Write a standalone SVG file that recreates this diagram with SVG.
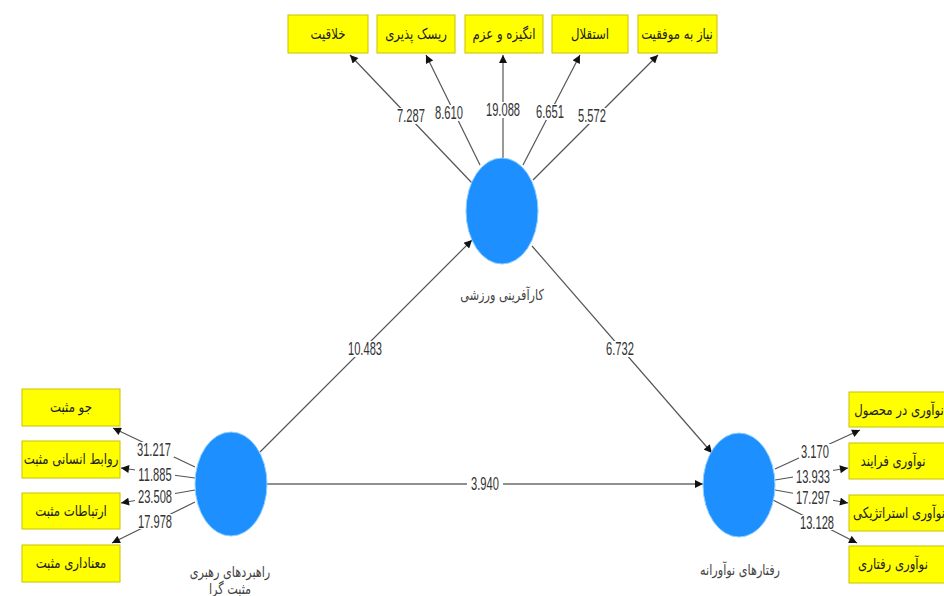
<svg xmlns="http://www.w3.org/2000/svg" width="944" height="596" viewBox="0 0 944 596">
<style>
.box{fill:#ffff00;stroke:#c9c200;stroke-width:1}
.lv{fill:#1e8fff;stroke:#8fd0ff;stroke-width:1}
.bt{font-family:"DejaVu Sans",sans-serif;font-size:15px;fill:#222;text-anchor:middle}
.lt{font-family:"DejaVu Sans",sans-serif;font-size:15px;fill:#444;text-anchor:middle}
.num{font-family:"Liberation Sans",Arial,sans-serif;font-size:18px;fill:#333;text-anchor:middle}
.bg{fill:#fff}
.ln{stroke:#555;stroke-width:1.2;fill:none;marker-end:url(#ah)}
.ln2{stroke:#222;stroke-width:1.2;fill:none;marker-end:url(#ah)}
</style>
<defs>
<marker id="ah" viewBox="0 0 10 10" refX="10" refY="5" markerWidth="9" markerHeight="8" markerUnits="userSpaceOnUse" orient="auto">
<path d="M0,0 L10,5 L0,10 z" fill="#111"/>
</marker>
</defs>
<rect width="944" height="596" fill="#fff"/>
<g id="connectors">
<line class="ln" x1="472" y1="183" x2="350" y2="55"/>
<line class="ln" x1="480" y1="165" x2="426" y2="55"/>
<line class="ln" x1="503" y1="158" x2="503" y2="55"/>
<line class="ln" x1="523" y1="165" x2="580" y2="55"/>
<line class="ln" x1="533" y1="180" x2="658" y2="55"/>
<line class="ln" x1="260" y1="452" x2="472" y2="240"/>
<line class="ln" x1="532" y1="246" x2="712" y2="453"/>
<line class="ln2" x1="267" y1="484" x2="703" y2="484"/>
<line class="ln" x1="195" y1="467" x2="113" y2="428"/>
<line class="ln" x1="195" y1="478" x2="121" y2="468"/>
<line class="ln" x1="195" y1="490" x2="121" y2="503"/>
<line class="ln" x1="195" y1="502" x2="112" y2="543"/>
<line class="ln" x1="775" y1="469" x2="860" y2="430"/>
<line class="ln" x1="775" y1="480" x2="848" y2="468"/>
<line class="ln" x1="775" y1="490" x2="848" y2="503"/>
<line class="ln" x1="773" y1="500" x2="857" y2="543"/>
<rect class="bg" x="395" y="108" width="32" height="16"/>
<rect class="bg" x="433" y="105" width="32" height="16"/>
<rect class="bg" x="483" y="102" width="40" height="16"/>
<rect class="bg" x="534" y="104" width="32" height="16"/>
<rect class="bg" x="576" y="108" width="32" height="16"/>
<rect class="bg" x="345" y="341" width="40" height="16"/>
<rect class="bg" x="604" y="341" width="32" height="16"/>
<rect class="bg" x="467" y="476" width="36" height="16"/>
<rect class="bg" x="134" y="442" width="40" height="15"/>
<rect class="bg" x="135" y="468" width="40" height="14"/>
<rect class="bg" x="135" y="490" width="40" height="14"/>
<rect class="bg" x="135" y="514" width="40" height="15"/>
<rect class="bg" x="799" y="444" width="32" height="15"/>
<rect class="bg" x="793" y="470" width="40" height="14"/>
<rect class="bg" x="793" y="491" width="40" height="14"/>
<rect class="bg" x="797" y="515" width="40" height="15"/>
<text class="num" transform="translate(411,122) scale(0.62,1)">7.287</text>
<text class="num" transform="translate(449,119) scale(0.62,1)">8.610</text>
<text class="num" transform="translate(503,116) scale(0.62,1)">19.088</text>
<text class="num" transform="translate(550,118) scale(0.62,1)">6.651</text>
<text class="num" transform="translate(592,122) scale(0.62,1)">5.572</text>
<text class="num" transform="translate(365,355) scale(0.62,1)">10.483</text>
<text class="num" transform="translate(620,355) scale(0.62,1)">6.732</text>
<text class="num" transform="translate(485,490) scale(0.62,1)">3.940</text>
<text class="num" transform="translate(154,456) scale(0.62,1)">31.217</text>
<text class="num" transform="translate(155,481) scale(0.62,1)">11.885</text>
<text class="num" transform="translate(155,503) scale(0.62,1)">23.508</text>
<text class="num" transform="translate(155,528) scale(0.62,1)">17.978</text>
<text class="num" transform="translate(815,458) scale(0.62,1)">3.170</text>
<text class="num" transform="translate(813,483) scale(0.62,1)">13.933</text>
<text class="num" transform="translate(813,504) scale(0.62,1)">17.297</text>
<text class="num" transform="translate(817,529) scale(0.62,1)">13.128</text>
</g>
<g id="node-kar">
<ellipse class="lv" cx="502" cy="211" rx="36" ry="53"/>
<text class="lt" transform="translate(502,300) scale(0.75,1)">کارآفرینی ورزشی</text>
</g>
<g id="node-rahbord">
<ellipse class="lv" cx="231" cy="484" rx="36" ry="52"/>
<text class="lt" transform="translate(230,577) scale(0.75,1)">راهبردهای رهبری</text>
<text class="lt" transform="translate(230,594) scale(0.75,1)">مثبت گرا</text>
</g>
<g id="node-raftar">
<ellipse class="lv" cx="739" cy="485" rx="36" ry="52"/>
<text class="lt" transform="translate(740,575) scale(0.75,1)">رفتارهای نوآورانه</text>
</g>
<g id="ind-khalaghiat"><rect class="box" x="288" y="15" width="80" height="38"/><text class="bt" transform="translate(328,39) scale(0.78,1)">خلاقیت</text></g>
<g id="ind-risk"><rect class="box" x="377" y="15" width="78" height="38"/><text class="bt" transform="translate(416,39) scale(0.78,1)">ریسک پذیری</text></g>
<g id="ind-angize"><rect class="box" x="465" y="15" width="78" height="38"/><text class="bt" transform="translate(504,39) scale(0.78,1)">انگیزه و عزم</text></g>
<g id="ind-esteghlal"><rect class="box" x="552" y="15" width="76" height="38"/><text class="bt" transform="translate(590,39) scale(0.78,1)">استقلال</text></g>
<g id="ind-niaz"><rect class="box" x="638" y="15" width="79" height="38"/><text class="bt" transform="translate(677,39) scale(0.78,1)">نیاز به موفقیت</text></g>
<g id="ind-jo"><rect class="box" x="22" y="389" width="98" height="37"/><text class="bt" transform="translate(71,412) scale(0.78,1)">جو مثبت</text></g>
<g id="ind-ravabet"><rect class="box" x="22" y="441" width="98" height="37"/><text class="bt" transform="translate(71,464) scale(0.78,1)">روابط انسانی مثبت</text></g>
<g id="ind-ertebatat"><rect class="box" x="22" y="493" width="98" height="36"/><text class="bt" transform="translate(71,516) scale(0.78,1)">ارتباطات مثبت</text></g>
<g id="ind-manadari"><rect class="box" x="22" y="545" width="98" height="37"/><text class="bt" transform="translate(71,568) scale(0.78,1)">معناداری مثبت</text></g>
<g id="ind-mahsul"><rect class="box" x="849" y="392" width="100" height="35"/><text class="bt" transform="translate(899,415) scale(0.78,1)">نوآوری در محصول</text></g>
<g id="ind-farayand"><rect class="box" x="849" y="443" width="100" height="36"/><text class="bt" transform="translate(893,466) scale(0.78,1)">نوآوری فرایند</text></g>
<g id="ind-strategic"><rect class="box" x="849" y="495" width="100" height="36"/><text class="bt" transform="translate(899,518) scale(0.78,1)">نوآوری استراتژیکی</text></g>
<g id="ind-raftari"><rect class="box" x="849" y="546" width="100" height="37"/><text class="bt" transform="translate(893,569) scale(0.78,1)">نوآوری رفتاری</text></g>
</svg>
